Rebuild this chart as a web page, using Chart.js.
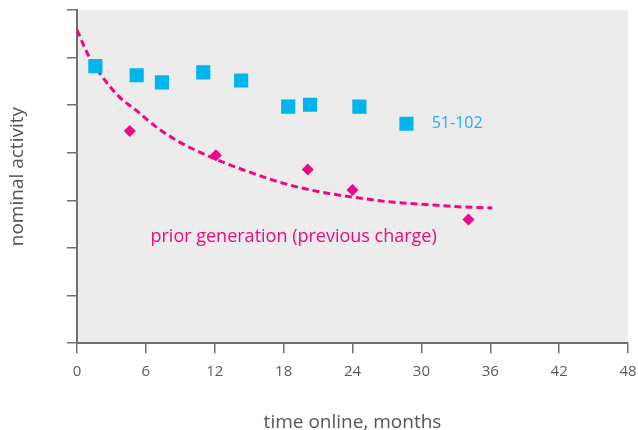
<!DOCTYPE html>
<html>
<head>
<meta charset="utf-8">
<script src="https://cdn.jsdelivr.net/npm/chart.js@4.4.0/dist/chart.umd.min.js"></script>
<style>
  html, body { margin: 0; padding: 0; background: #fff; }
  #wrap { width: 638px; height: 430px; }
</style>
</head>
<body>
<div id="wrap"><canvas id="c"></canvas></div>
<script>
// values (x = months online, y = nominal activity, axis units)
const new_x = [1.6, 5.2, 7.4, 11.0, 14.3, 18.4, 20.3, 24.6, 28.7]
const new_y = [5.82, 5.63, 5.48, 5.69, 5.52, 4.97, 5.01, 4.97, 4.61]

const prior_x = [4.6, 12.1, 20.1, 24.0, 34.1]
const prior_y = [4.46, 3.95, 3.65, 3.22, 2.60]

// dashed trend curve, traced point by point
const trend_x = [0, 1.05, 2.2, 3.66, 5.11, 6.86, 8.89, 10.91, 12.95, 14.98, 17.01, 19.05, 21.37, 24.28, 27.18, 30.08, 32.99, 36.18]
const trend_y = [6.58, 6.02, 5.60, 5.18, 4.90, 4.55, 4.23, 3.99, 3.78, 3.60, 3.43, 3.29, 3.17, 3.06, 2.97, 2.92, 2.87, 2.84]

const x_ticks = [0, 6, 12, 18, 24, 30, 36, 42, 48]

const BLUE = '#00b4ee'
const PINK = '#ec0a84'
const AXIS = '#6f6f6f'
const FONT = "'Open Sans', sans-serif"

function to_points(xs, ys) {
  return xs.map((x, i) => ({ x: x, y: ys[i] }))
}

const bg_plugin = {
  id: 'plot_bg',
  beforeDraw(chart) {
    const a = chart.chartArea
    const ctx = chart.ctx
    ctx.save()
    ctx.fillStyle = '#ececec'
    ctx.fillRect(a.left, a.top, a.right - a.left, a.bottom - a.top)
    ctx.restore()
  }
}

const labels_plugin = {
  id: 'labels',
  afterDatasetsDraw(chart) {
    const ctx = chart.ctx
    const xs = chart.scales.x
    const ys = chart.scales.y
    ctx.save()
    ctx.textBaseline = 'middle'
    ctx.textAlign = 'left'
    ctx.font = "16px " + FONT
    ctx.fillStyle = '#1fb2e8'
    ctx.fillText('51-102', xs.getPixelForValue(30.9), ys.getPixelForValue(4.62))
    ctx.font = "18px " + FONT
    ctx.fillStyle = PINK
    ctx.fillText('prior generation (previous charge)', xs.getPixelForValue(6.4), ys.getPixelForValue(2.23))
    ctx.restore()
  }
}

// lower order = drawn on top, so the points sit above the dashed curve
const datasets = [
  {
    type: 'line',
    label: 'trend',
    order: 3,
    data: to_points(trend_x, trend_y),
    borderColor: PINK,
    borderWidth: 3,
    borderDash: [7, 4],
    pointRadius: 0,
    cubicInterpolationMode: 'monotone',
    fill: false
  },
  {
    type: 'scatter',
    label: '51-102',
    order: 1,
    data: to_points(new_x, new_y),
    pointStyle: 'rect',
    pointRadius: 10,
    backgroundColor: BLUE,
    borderColor: BLUE,
    borderWidth: 0
  },
  {
    type: 'scatter',
    label: 'prior generation',
    order: 2,
    data: to_points(prior_x, prior_y),
    pointStyle: 'rectRot',
    pointRadius: 6,
    backgroundColor: PINK,
    borderColor: PINK,
    borderWidth: 0
  }
]

const chart = new Chart(document.getElementById('c'), {
  data: { datasets: datasets },
  options: {
    responsive: true,
    maintainAspectRatio: false,
    animation: false,
    layout: { padding: { top: 10, right: 9, left: 0, bottom: 0 } },
    plugins: { legend: { display: false }, tooltip: { enabled: false } },
    scales: {
      x: {
        type: 'linear',
        min: 0,
        max: 48,
        afterBuildTicks: (s) => { s.ticks = x_ticks.map(v => ({ value: v })) },
        afterFit: (s) => { s.paddingRight = 0 },
        grid: { drawOnChartArea: false, drawTicks: true, tickLength: 10, color: AXIS, lineWidth: 1.5 },
        border: { display: true, color: AXIS, width: 2 },
        ticks: { color: '#5a5a5a', font: { family: FONT, size: 15 }, padding: 10, maxRotation: 0 },
        title: { display: true, text: 'time online, months', color: '#555', font: { family: FONT, size: 19 }, padding: { top: 20, bottom: -4 } }
      },
      y: {
        type: 'linear',
        min: 0,
        max: 7,
        ticks: { display: false, stepSize: 1 },
        grid: { drawOnChartArea: false, drawTicks: true, tickLength: 10, color: AXIS, lineWidth: 1.5 },
        border: { display: true, color: AXIS, width: 2 },
        title: { display: true, text: 'nominal activity', color: '#555', font: { family: FONT, size: 19 }, padding: { top: 6.6, bottom: 37.6 } }
      }
    }
  },
  plugins: [bg_plugin, labels_plugin]
})
</script>
</body>
</html>
